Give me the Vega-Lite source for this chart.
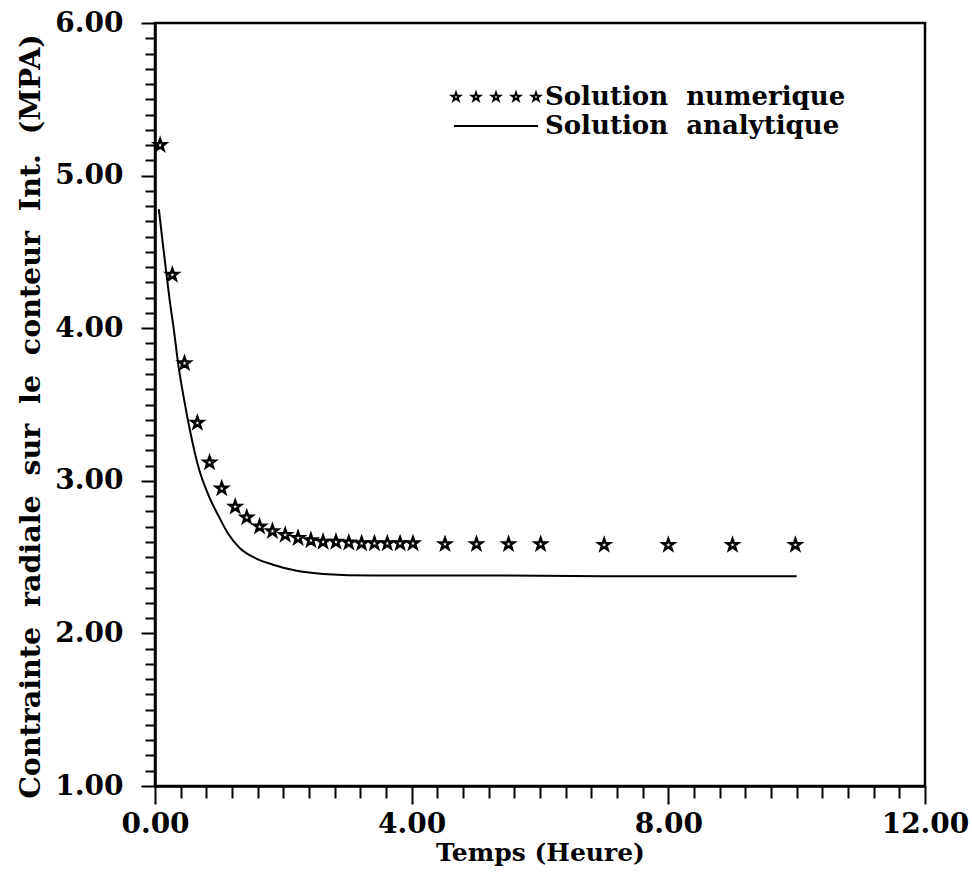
{
  "$schema": "https://vega.github.io/schema/vega-lite/v6.json",
  "width": 770,
  "height": 763,
  "autosize": {"type": "none"},
  "padding": {"left": 155, "top": 23, "right": 47, "bottom": 90},
  "background": "white",
  "config": {
    "view": {"stroke": "black", "strokeWidth": 2.5},
    "axis": {
      "domainColor": "black",
      "tickColor": "black",
      "labelColor": "black",
      "titleColor": "black",
      "grid": false,
      "domainWidth": 2.5,
      "tickWidth": 2,
      "labelFont": "DejaVu Serif",
      "labelFontWeight": "bold",
      "labelFontSize": 28,
      "titleFont": "DejaVu Serif",
      "titleFontWeight": "bold"
    },
    "legend": {
      "labelFont": "DejaVu Serif",
      "labelFontWeight": "bold",
      "labelFontSize": 26,
      "labelColor": "black",
      "labelLimit": 500,
      "padding": 0,
      "symbolSize": 400,
      "symbolStrokeWidth": 2,
      "symbolOffset": 0,
      "labelOffset": 36
    }
  },
  "datasets": {
    "analytique": [
      {"t": 0.06, "v": 4.78, "serie": "Solution analytique"},
      {"t": 0.12, "v": 4.56, "serie": "Solution analytique"},
      {"t": 0.18, "v": 4.35, "serie": "Solution analytique"},
      {"t": 0.23, "v": 4.18, "serie": "Solution analytique"},
      {"t": 0.30, "v": 3.97, "serie": "Solution analytique"},
      {"t": 0.36, "v": 3.77, "serie": "Solution analytique"},
      {"t": 0.45, "v": 3.54, "serie": "Solution analytique"},
      {"t": 0.55, "v": 3.32, "serie": "Solution analytique"},
      {"t": 0.67, "v": 3.10, "serie": "Solution analytique"},
      {"t": 0.86, "v": 2.88, "serie": "Solution analytique"},
      {"t": 0.99, "v": 2.77, "serie": "Solution analytique"},
      {"t": 1.13, "v": 2.66, "serie": "Solution analytique"},
      {"t": 1.32, "v": 2.56, "serie": "Solution analytique"},
      {"t": 1.58, "v": 2.49, "serie": "Solution analytique"},
      {"t": 1.84, "v": 2.45, "serie": "Solution analytique"},
      {"t": 2.21, "v": 2.41, "serie": "Solution analytique"},
      {"t": 2.62, "v": 2.39, "serie": "Solution analytique"},
      {"t": 3.40, "v": 2.38, "serie": "Solution analytique"},
      {"t": 5.00, "v": 2.38, "serie": "Solution analytique"},
      {"t": 7.00, "v": 2.375, "serie": "Solution analytique"},
      {"t": 10.0, "v": 2.375, "serie": "Solution analytique"}
    ],
    "numerique": [
      {"t": 0.08, "v": 5.20, "serie": "Solution numerique"},
      {"t": 0.27, "v": 4.35, "serie": "Solution numerique"},
      {"t": 0.46, "v": 3.77, "serie": "Solution numerique"},
      {"t": 0.66, "v": 3.38, "serie": "Solution numerique"},
      {"t": 0.85, "v": 3.12, "serie": "Solution numerique"},
      {"t": 1.04, "v": 2.95, "serie": "Solution numerique"},
      {"t": 1.25, "v": 2.83, "serie": "Solution numerique"},
      {"t": 1.43, "v": 2.76, "serie": "Solution numerique"},
      {"t": 1.63, "v": 2.70, "serie": "Solution numerique"},
      {"t": 1.83, "v": 2.67, "serie": "Solution numerique"},
      {"t": 2.03, "v": 2.645, "serie": "Solution numerique"},
      {"t": 2.23, "v": 2.625, "serie": "Solution numerique"},
      {"t": 2.43, "v": 2.61, "serie": "Solution numerique"},
      {"t": 2.62, "v": 2.60, "serie": "Solution numerique"},
      {"t": 2.82, "v": 2.60, "serie": "Solution numerique"},
      {"t": 3.02, "v": 2.595, "serie": "Solution numerique"},
      {"t": 3.22, "v": 2.59, "serie": "Solution numerique"},
      {"t": 3.42, "v": 2.59, "serie": "Solution numerique"},
      {"t": 3.62, "v": 2.59, "serie": "Solution numerique"},
      {"t": 3.82, "v": 2.59, "serie": "Solution numerique"},
      {"t": 4.02, "v": 2.59, "serie": "Solution numerique"},
      {"t": 4.52, "v": 2.585, "serie": "Solution numerique"},
      {"t": 5.01, "v": 2.585, "serie": "Solution numerique"},
      {"t": 5.51, "v": 2.585, "serie": "Solution numerique"},
      {"t": 6.01, "v": 2.585, "serie": "Solution numerique"},
      {"t": 7.00, "v": 2.58, "serie": "Solution numerique"},
      {"t": 8.00, "v": 2.58, "serie": "Solution numerique"},
      {"t": 9.00, "v": 2.58, "serie": "Solution numerique"},
      {"t": 9.98, "v": 2.58, "serie": "Solution numerique"}
    ]
  },
  "layer": [
    {
      "data": {"name": "analytique"},
      "mark": {"type": "line", "strokeWidth": 2, "interpolate": "monotone"},
      "encoding": {
        "x": {
          "field": "t", "type": "quantitative",
          "scale": {"domain": [0, 12], "nice": false, "zero": false},
          "axis": {
            "orient": "bottom",
            "values": [0, 4, 8, 12],
            "format": ".2f",
            "tickSize": 18,
            "labelPadding": 6,
            "labelFlush": false,
            "labelOverlap": false,
            "title": "Temps (Heure)",
            "titleFontSize": 25,
            "titlePadding": 2
          }
        },
        "y": {
          "field": "v", "type": "quantitative",
          "scale": {"domain": [1, 6], "nice": false, "zero": false},
          "axis": {
            "orient": "left",
            "values": [1, 2, 3, 4, 5, 6],
            "format": ".2f",
            "tickSize": 14,
            "labelPadding": 18,
            "labelOverlap": false,
            "title": "Contrainte\u00a0 radiale\u00a0 sur\u00a0 le\u00a0 conteur\u00a0 Int.\u00a0 (MPA)",
            "titleFontSize": 28.5,
            "titlePadding": 9,
            "titleY": 393
          }
        },
        "color": {
          "field": "serie", "type": "nominal",
          "scale": {"domain": ["Solution analytique"], "range": ["black"]},
          "legend": {
            "orient": "none",
            "legendX": 328,
            "legendY": 90,
            "title": null,
            "symbolType": "M-4.2,0H4.2",
            "labelExpr": "replace(datum.label, ' ', '\u00a0\u00a0')"
          }
        }
      }
    },
    {
      "data": {"name": "numerique"},
      "mark": {
        "type": "point",
        "shape": "M0,-1L.235,-.324L.951,-.309L.38,.124L.588,.809L0,.4L-.588,.809L-.38,.124L-.951,-.309L-.235,-.324Z",
        "filled": false,
        "size": 140,
        "strokeWidth": 2.5,
        "opacity": 1
      },
      "encoding": {
        "x": {
          "field": "t", "type": "quantitative",
          "axis": {
            "orient": "bottom",
            "values": [0.4, 0.8, 1.2, 1.6, 2, 2.4, 2.8, 3.2, 3.6, 4.4, 4.8, 5.2, 5.6, 6, 6.4, 6.8, 7.2, 7.6, 8.4, 8.8, 9.2, 9.6, 10, 10.4, 10.8, 11.2, 11.6],
            "labels": false,
            "domain": false,
            "tickSize": 12,
            "title": null
          }
        },
        "y": {
          "field": "v", "type": "quantitative",
          "axis": {
            "orient": "left",
            "values": [1.1, 1.2, 1.3, 1.4, 1.5, 1.6, 1.7, 1.8, 1.9, 2.1, 2.2, 2.3, 2.4, 2.5, 2.6, 2.7, 2.8, 2.9, 3.1, 3.2, 3.3, 3.4, 3.5, 3.6, 3.7, 3.8, 3.9, 4.1, 4.2, 4.3, 4.4, 4.5, 4.6, 4.7, 4.8, 4.9, 5.1, 5.2, 5.3, 5.4, 5.5, 5.6, 5.7, 5.8, 5.9],
            "labels": false,
            "domain": false,
            "tickSize": 10,
            "title": null
          }
        },
        "color": {
          "field": "serie", "type": "nominal",
          "scale": {"domain": ["Solution numerique"], "range": ["black"]},
          "legend": {
            "orient": "none",
            "legendX": 328,
            "legendY": 61,
            "title": null,
            "symbolType": "M-4,-.45L-3.894,-.146L-3.572,-.139L-3.829,.056L-3.735,.364L-4,.18L-4.265,.364L-4.171,.056L-4.428,-.139L-4.106,-.146ZM-2,-.45L-1.894,-.146L-1.572,-.139L-1.829,.056L-1.735,.364L-2,.18L-2.265,.364L-2.171,.056L-2.428,-.139L-2.106,-.146ZM0,-.45L.106,-.146L.428,-.139L.171,.056L.265,.364L0,.18L-.265,.364L-.171,.056L-.428,-.139L-.106,-.146ZM2,-.45L2.106,-.146L2.428,-.139L2.171,.056L2.265,.364L2,.18L1.735,.364L1.829,.056L1.572,-.139L1.894,-.146ZM4,-.45L4.106,-.146L4.428,-.139L4.171,.056L4.265,.364L4,.18L3.735,.364L3.829,.056L3.572,-.139L3.894,-.146Z",
            "labelExpr": "replace(datum.label, ' ', '\u00a0\u00a0')"
          }
        }
      }
    }
  ],
  "resolve": {
    "axis": {"x": "independent", "y": "independent"},
    "scale": {"color": "independent"}
  }
}
